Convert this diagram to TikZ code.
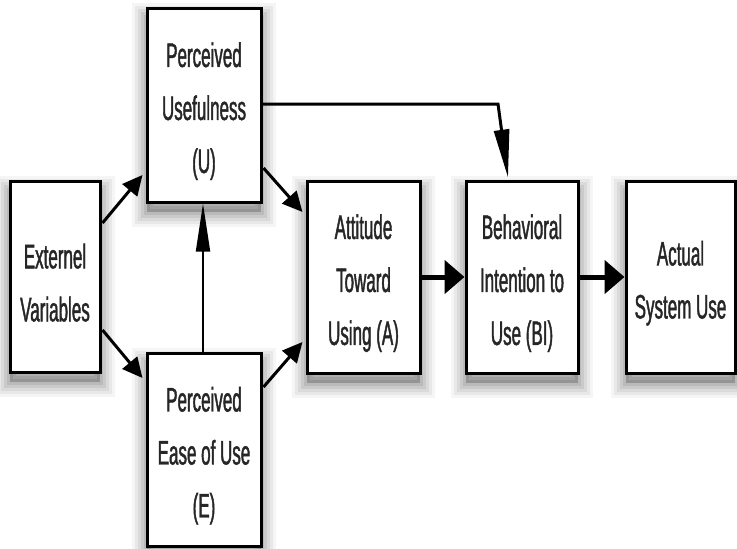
\documentclass[tikz,border=0pt]{standalone}
\usepackage{fontspec}
\newfontfamily\narrowfont[FakeStretch=0.5,FakeBold=1.2]{Liberation Sans}
\usetikzlibrary{arrows.meta,calc}
\newcommand\myTstrut{\rule{0pt}{37pt}}
\begin{document}
\begin{tikzpicture}[x=1pt,y=-1pt,
  shadowed/.style={
    preaction={draw=black, line width=30pt, draw opacity=0.04, transform canvas={yshift=-10pt}},
    preaction={draw=black, line width=24pt, draw opacity=0.05, transform canvas={yshift=-10pt}},
    preaction={draw=black, line width=18pt, draw opacity=0.06, transform canvas={yshift=-10pt}},
    preaction={draw=black, line width=12pt, draw opacity=0.07, transform canvas={yshift=-10pt}},
    preaction={draw=black, line width=6pt, draw opacity=0.08, transform canvas={yshift=-10pt}},
    preaction={fill=black, fill opacity=0.2, transform canvas={yshift=-10pt}}},
  box/.style={shadowed, draw=black, line width=3pt, fill=white, align=center, inner sep=0pt,
    font=\narrowfont\fontsize{34}{53}\selectfont, text=black!85},
  darrow/.style={line width=3pt, -{Triangle[length=20pt,width=19pt]}},
  harrow/.style={line width=5pt, -{Triangle[length=20pt,width=33pt]}},
  varrow/.style={line width=1.8pt, -{Triangle[length=48pt,width=14pt]}},
  larrow/.style={line width=3pt, -{Triangle[length=48pt,width=15pt]}},
]
\useasboundingbox (0,0) rectangle (737,549);
\fill[white] (0,0) rectangle (737,549);
\node[box, minimum width=90pt, minimum height=191pt] (ext) at (55,276.5) {\myTstrut Externel\\Variables};
\node[box, minimum width=114pt, minimum height=194pt] (pu) at (204,105) {\myTstrut Perceived\\Usefulness\\(U)};
\node[box, minimum width=114pt, minimum height=193pt] (pe) at (204,449.5) {\myTstrut Perceived\\Ease of Use\\(E)};
\node[box, minimum width=113pt, minimum height=192pt] (att) at (363.5,277) {\myTstrut Attitude\\Toward\\Using (A)};
\node[box, minimum width=112pt, minimum height=192pt] (bi) at (522,277) {\myTstrut Behavioral\\Intention to\\Use (BI)};
\node[box, minimum width=109pt, minimum height=192pt] (act) at (680.5,277) {\myTstrut Actual\\System Use};
\coordinate (corner) at (498,104);
\draw[darrow] ($(ext.east)+(1,-53.5)$) -- ($(pu.west)+(-3,70)$);
\draw[darrow] ($(ext.east)+(1,53.5)$) -- ($(pe.west)+(-3,-71.5)$);
\draw[darrow] ($(pu.east)+(1,63)$) -- ($(att.west)+(-3,-65)$);
\draw[darrow] ($(pe.east)+(1,-62.5)$) -- ($(att.west)+(-3,65)$);
\draw[varrow] ($(pe.north)+(-1,0)$) -- ($(pu.south)+(-1,0)$);
\draw[larrow, line join=miter] ($(pu.east)+(0,-1)$) -- (corner) -- ($(bi.north)+(-14,-2)$);
\draw[harrow] (att.east) -- (bi.west);
\draw[harrow] (bi.east) -- (act.west);
\end{tikzpicture}
\end{document}
